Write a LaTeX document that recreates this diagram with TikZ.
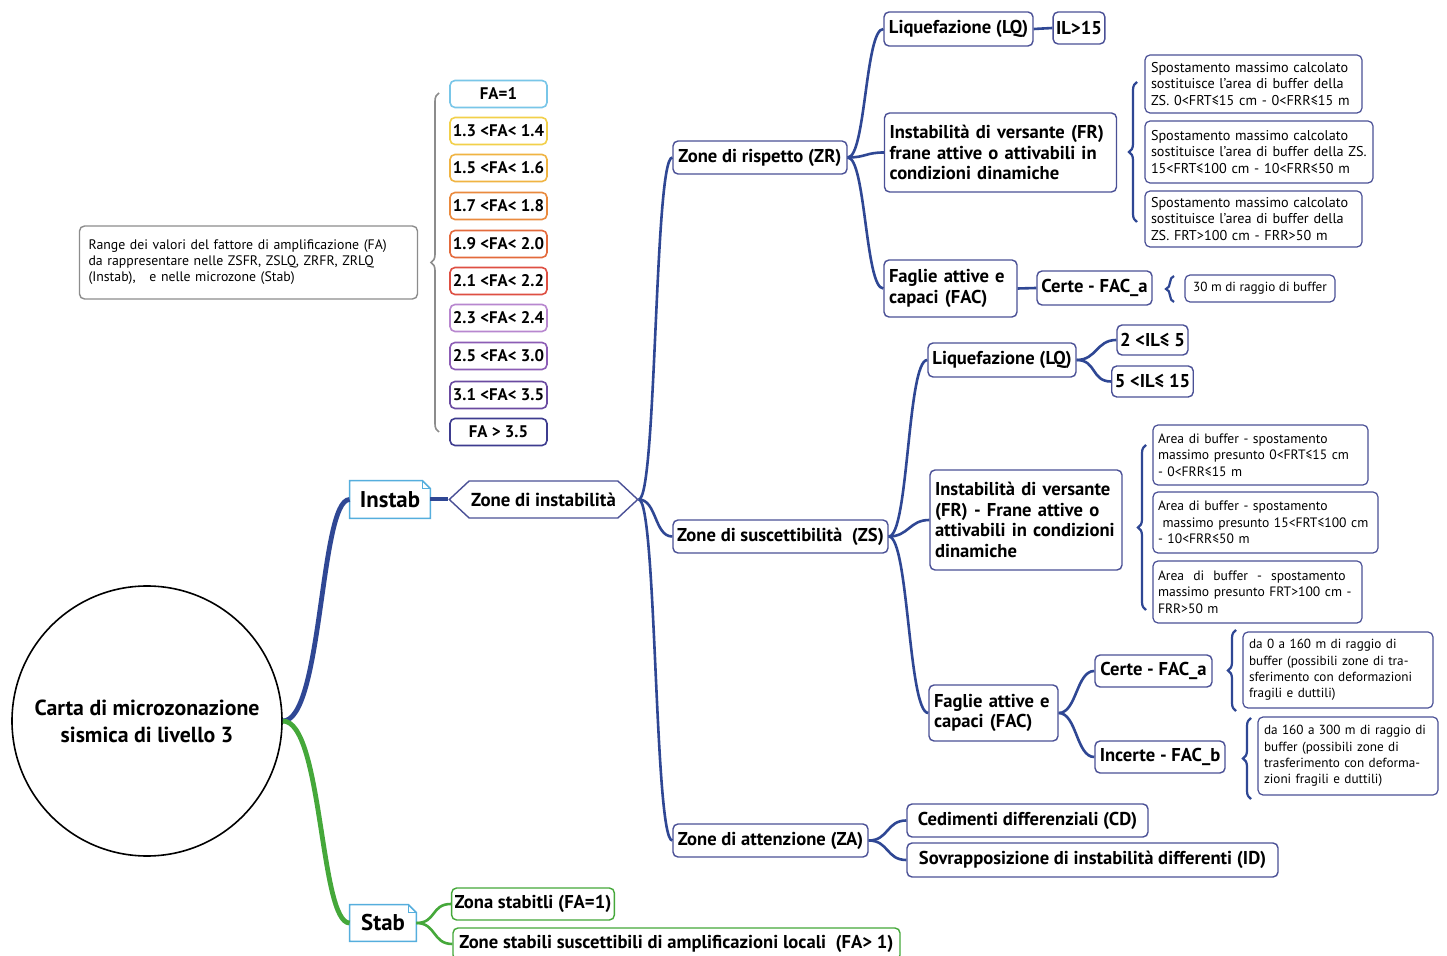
\documentclass[tikz,border=0pt]{standalone}
\usepackage{fontspec}
\setmainfont{PT Sans}
\usetikzlibrary{shapes.symbols,decorations.pathreplacing}
\definecolor{linkblue}{HTML}{2F4794}
\definecolor{boxblue}{HTML}{4A5096}
\definecolor{noteblue}{HTML}{55AEDD}
\definecolor{stabgreen}{HTML}{45A83A}
\definecolor{legendgray}{HTML}{8C8C8C}
\definecolor{fa1}{HTML}{79C6E8}
\definecolor{fa2}{HTML}{F2D04A}
\definecolor{fa3}{HTML}{F0B443}
\definecolor{fa4}{HTML}{EA8A3E}
\definecolor{fa5}{HTML}{E36A3C}
\definecolor{fa6}{HTML}{DE4F42}
\definecolor{fa7}{HTML}{B887CF}
\definecolor{fa8}{HTML}{8C5DB5}
\definecolor{fa9}{HTML}{6A4AA0}
\definecolor{fa10}{HTML}{3E3C8F}

\begin{document}
\begin{tikzpicture}[x=0.5pt,y=-0.5pt,
  topic/.style={draw=boxblue,line width=0.7pt,rounded corners=2.5pt,fill=white,inner sep=1.5pt,font=\bfseries\fontsize{9.3}{10.3}\selectfont},
  bigtopic/.style={topic,align=left,inner sep=2.5pt},
  note/.style={draw=boxblue,line width=0.6pt,rounded corners=2.5pt,fill=white,inner sep=3pt,align=left,font=\fontsize{7.1}{8.3}\selectfont},
  zsnote/.style={note,inner sep=2.5pt,font=\fontsize{6.8}{8.2}\selectfont},
  smallnote/.style={note,font=\fontsize{6.6}{8.1}\selectfont},
  fabox/.style={line width=0.8pt,rounded corners=2.5pt,fill=white,minimum width=48.5pt,minimum height=13.5pt,inner sep=1pt,font=\bfseries\fontsize{8.4}{9}\selectfont},
  stabbox/.style={draw=stabgreen,line width=0.7pt,rounded corners=2.5pt,fill=white,inner sep=1.5pt,font=\bfseries\fontsize{9.3}{10}\selectfont},
  link/.style={draw=linkblue,line width=1.3pt},
  greenlink/.style={draw=stabgreen,line width=1.3pt},
  curly/.style={draw=linkblue,line width=1.1pt,decorate,decoration={brace,amplitude=4pt}}]
\useasboundingbox (0,0) rectangle (1447,956);
\fill[white] (0,0) rectangle (1447,956);

% root and main branches
\node[circle,draw=black,line width=0.8pt,minimum size=135pt,align=center,font=\bfseries\fontsize{10.9}{13.5}\selectfont] (root) at (147,721) {Carta di microzonazione\\sismica di livello 3};
\node[minimum width=40pt,minimum height=18.5pt,inner sep=0pt,font=\bfseries\fontsize{11.4}{12}\selectfont] (instab) at (390,499.5) {Instab};
\node[minimum width=33pt,minimum height=18pt,inner sep=0pt,font=\bfseries\fontsize{11.4}{12}\selectfont] (stab) at (383,923) {Stab};
\draw[noteblue,line width=0.8pt] (instab.south west) -- (instab.north west) -- ([xshift=-4pt]instab.north east) -- ([yshift=-4pt]instab.north east) -- (instab.south east) -- cycle;
\draw[noteblue,line width=0.6pt] ([xshift=-4pt]instab.north east) -- ([xshift=-4pt,yshift=-4pt]instab.north east) -- ([yshift=-4pt]instab.north east);
\draw[noteblue,line width=0.8pt] (stab.south west) -- (stab.north west) -- ([xshift=-4pt]stab.north east) -- ([yshift=-4pt]stab.north east) -- (stab.south east) -- cycle;
\draw[noteblue,line width=0.6pt] ([xshift=-4pt]stab.north east) -- ([xshift=-4pt,yshift=-4pt]stab.north east) -- ([yshift=-4pt]stab.north east);
\node[shape=signal,signal to=west and east,signal pointer angle=86,draw=boxblue,line width=0.7pt,fill=white,minimum width=93.5pt,minimum height=18.5pt,inner sep=1pt,font=\bfseries\fontsize{9.4}{10}\selectfont] (zi) at (543.5,499.5) {Zone di instabilità};

\draw[link,line width=2.4pt] (root.east) .. controls +(40,0) and +(-30,0) .. (instab.west);
\draw[greenlink,line width=2.4pt] (root.east) .. controls +(40,0) and +(-30,0) .. (stab.west);
\draw[link,line width=2pt] (instab.east) -- (zi.west);

% zone di rispetto
\node[topic,minimum width=87pt,minimum height=16.5pt] (zr) at (760,157.5) {Zone di rispetto (ZR)};
\node[topic,minimum width=74.5pt,minimum height=17pt] (zrlq) at (958.5,29) {Liquefazione (LQ)};
\node[topic,minimum width=24pt,minimum height=16pt] (zril) at (1079,28) {IL>15};
\node[bigtopic,text width=111pt,minimum height=39.5pt] (zrfr) at (1000.5,152.5) {Instabilità di versante (FR)\\frane attive o attivabili in\\condizioni dinamiche};
\node[bigtopic,text width=61.5pt,minimum height=28.5pt] (zrfac) at (950.5,288.5) {Faglie attive e\\capaci (FAC)};
\node[topic,minimum width=57.5pt,minimum height=17pt] (zrcerte) at (1094.5,288) {Certe - FAC\_a};
\node[smallnote,minimum width=75pt,minimum height=13.5pt,inner sep=1pt] (zrbuf) at (1260,288.5) {30 m di raggio di buffer};
\node[note,text width=102.5pt,minimum height=29pt] (zrn1) at (1253.5,84) {Spostamento massimo calcolato\\sostituisce l'area di buffer della\\ZS. 0<FRT≤15 cm - 0<FRR≤15 m};
\node[note,text width=108pt,minimum height=31pt] (zrn2) at (1259,152) {Spostamento massimo calcolato\\sostituisce l'area di buffer della ZS.\\15<FRT≤100 cm - 10<FRR≤50 m};
\node[note,text width=102.5pt,minimum height=28pt] (zrn3) at (1253.5,219) {Spostamento massimo calcolato\\sostituisce l'area di buffer della\\ZS. FRT>100 cm - FRR>50 m};

\draw[link] (zi.east) .. controls +(18,0) and +(-18,0) .. (zr.west);
\draw[link] (zr.east) .. controls +(18,0) and +(-18,0) .. (zrlq.west);
\draw[link] (zr.east) .. controls +(18,0) and +(-18,0) .. (zrfr.west);
\draw[link] (zr.east) .. controls +(18,0) and +(-18,0) .. (zrfac.west);
\draw[link] (zrlq.east) -- (zril.west);
\draw[link] (zrfac.east) -- (zrcerte.west);
\draw[curly] (1137,222) -- (1137,82);
\draw[curly] (1174,302) -- (1174,276);

% zone di suscettibilita
\node[topic,minimum width=107.5pt,minimum height=16.5pt] (zs) at (780.5,536.5) {Zone di suscettibilità\ \ (ZS)};
\node[topic,minimum width=74pt,minimum height=17pt] (zslq) at (1002,360) {Liquefazione (LQ)};
\node[topic,minimum width=35.5pt,minimum height=15pt] (zsil1) at (1152.5,340) {2 <IL≤ 5};
\node[topic,minimum width=35.5pt,minimum height=15.5pt] (zsil2) at (1152.5,381.5) {5 <IL≤ 15};
\node[bigtopic,text width=91pt,minimum height=50pt] (zsfr) at (1026,520) {Instabilità di versante\\(FR) - Frane attive o\\attivabili in condizioni\\dinamiche};
\node[zsnote,text width=102.5pt,minimum height=30pt] (zsn1) at (1260.5,455) {Area di buffer - spostamento\\massimo presunto 0<FRT≤15 cm\\- 0<FRR≤15 m};
\node[zsnote,text width=107.5pt,minimum height=30.5pt] (zsn2) at (1265.5,522.5) {Area di buffer - spostamento\\\ massimo presunto 15<FRT≤100 cm\\- 10<FRR≤50 m};
\node[zsnote,text width=99.5pt,minimum height=31pt] (zsn3) at (1257.5,592) {Area\ \ di\ \ buffer\ \ -\ \ spostamento\\massimo presunto FRT>100 cm -\\FRR>50 m};
\node[bigtopic,text width=59.5pt,minimum height=28pt] (zsfac) at (993.5,713) {Faglie attive e\\capaci (FAC)};
\node[topic,minimum width=58.5pt,minimum height=16pt] (zscerte) at (1153.5,671) {Certe - FAC\_a};
\node[topic,minimum width=65pt,minimum height=16pt] (zsincerte) at (1160,757) {Incerte - FAC\_b};
\node[smallnote,text width=89pt,minimum height=38pt] (zsn4) at (1338,670) {da 0 a 160 m di raggio di\\buffer (possibili zone di tra-\\sferimento con deformazioni\\fragili e duttili)};
\node[smallnote,text width=84pt,minimum height=39pt] (zsn5) at (1348,756) {da 160 a 300 m di raggio di\\buffer (possibili zone di\\trasferimento con deforma-\\zioni fragili e duttili)};

\draw[link] (zi.east) .. controls +(18,0) and +(-18,0) .. (zs.west);
\draw[link] (zs.east) .. controls +(20,0) and +(-20,0) .. (zslq.west);
\draw[link] (zs.east) .. controls +(20,0) and +(-20,0) .. (zsfr.west);
\draw[link] (zs.east) .. controls +(20,0) and +(-20,0) .. (zsfac.west);
\draw[link] (zslq.east) .. controls +(20,0) and +(-20,0) .. (zsil1.west);
\draw[link] (zslq.east) .. controls +(20,0) and +(-20,0) .. (zsil2.west);
\draw[link] (zsfac.east) .. controls +(18,0) and +(-18,0) .. (zscerte.west);
\draw[link] (zsfac.east) .. controls +(18,0) and +(-18,0) .. (zsincerte.west);
\draw[curly] (1146,610) -- (1146,445);
\draw[curly] (1236,711) -- (1236,630);
\draw[curly] (1251,799) -- (1251,718);

% zone di attenzione
\node[topic,minimum width=97.5pt,minimum height=16.5pt] (za) at (770.5,840.5) {Zone di attenzione (ZA)};
\node[topic,minimum width=120.5pt,minimum height=16.5pt] (zacd) at (1027.5,820.5) {Cedimenti differenziali (CD)};
\node[topic,minimum width=185.5pt,minimum height=17pt] (zaid) at (1092.5,860) {Sovrapposizione di instabilità differenti (ID)};

\draw[link] (zi.east) .. controls +(18,0) and +(-18,0) .. (za.west);
\draw[link] (za.east) .. controls +(20,0) and +(-20,0) .. (zacd.west);
\draw[link] (za.east) .. controls +(20,0) and +(-20,0) .. (zaid.west);

% zone stabili
\node[stabbox,minimum width=80pt,minimum height=16pt] (st1) at (533,904) {Zona stabitli (FA=1)};
\node[stabbox,minimum width=223.5pt,minimum height=16pt] (st2) at (676.5,944) {Zone stabili suscettibili di amplificazioni locali\ \ (FA> 1)};
\draw[greenlink] (stab.east) .. controls +(20,0) and +(-20,0) .. (st1.west);
\draw[greenlink] (stab.east) .. controls +(20,0) and +(-20,0) .. (st2.west);

% legenda FA
\node[draw=legendgray,line width=0.7pt,rounded corners=2.5pt,text width=160pt,minimum height=36.5pt,inner sep=4.5pt,align=left,font=\fontsize{6.9}{8}\selectfont] (legend) at (248.5,262.5) {Range dei valori del fattore di amplificazione (FA)\\da rappresentare nelle ZSFR, ZSLQ, ZRFR, ZRLQ\\(Instab),\ \ \ e nelle microzone (Stab)};
\draw[legendgray,line width=0.8pt,decorate,decoration={brace,amplitude=4pt}] (439,432) -- (439,93);
\node[fabox,draw=fa1] (fa1) at (498.5,94) {FA=1};
\node[fabox,draw=fa2] (fa2) at (498.5,131) {1.3 <FA< 1.4};
\node[fabox,draw=fa3] (fa3) at (498.5,168) {1.5 <FA< 1.6};
\node[fabox,draw=fa4] (fa4) at (498.5,206) {1.7 <FA< 1.8};
\node[fabox,draw=fa5] (fa5) at (498.5,244) {1.9 <FA< 2.0};
\node[fabox,draw=fa6] (fa6) at (498.5,281) {2.1 <FA< 2.2};
\node[fabox,draw=fa7] (fa7) at (498.5,318) {2.3 <FA< 2.4};
\node[fabox,draw=fa8] (fa8) at (498.5,356) {2.5 <FA< 3.0};
\node[fabox,draw=fa9] (fa9) at (498.5,395) {3.1 <FA< 3.5};
\node[fabox,draw=fa10] (fa10) at (498.5,432) {FA > 3.5};
\end{tikzpicture}
\end{document}
